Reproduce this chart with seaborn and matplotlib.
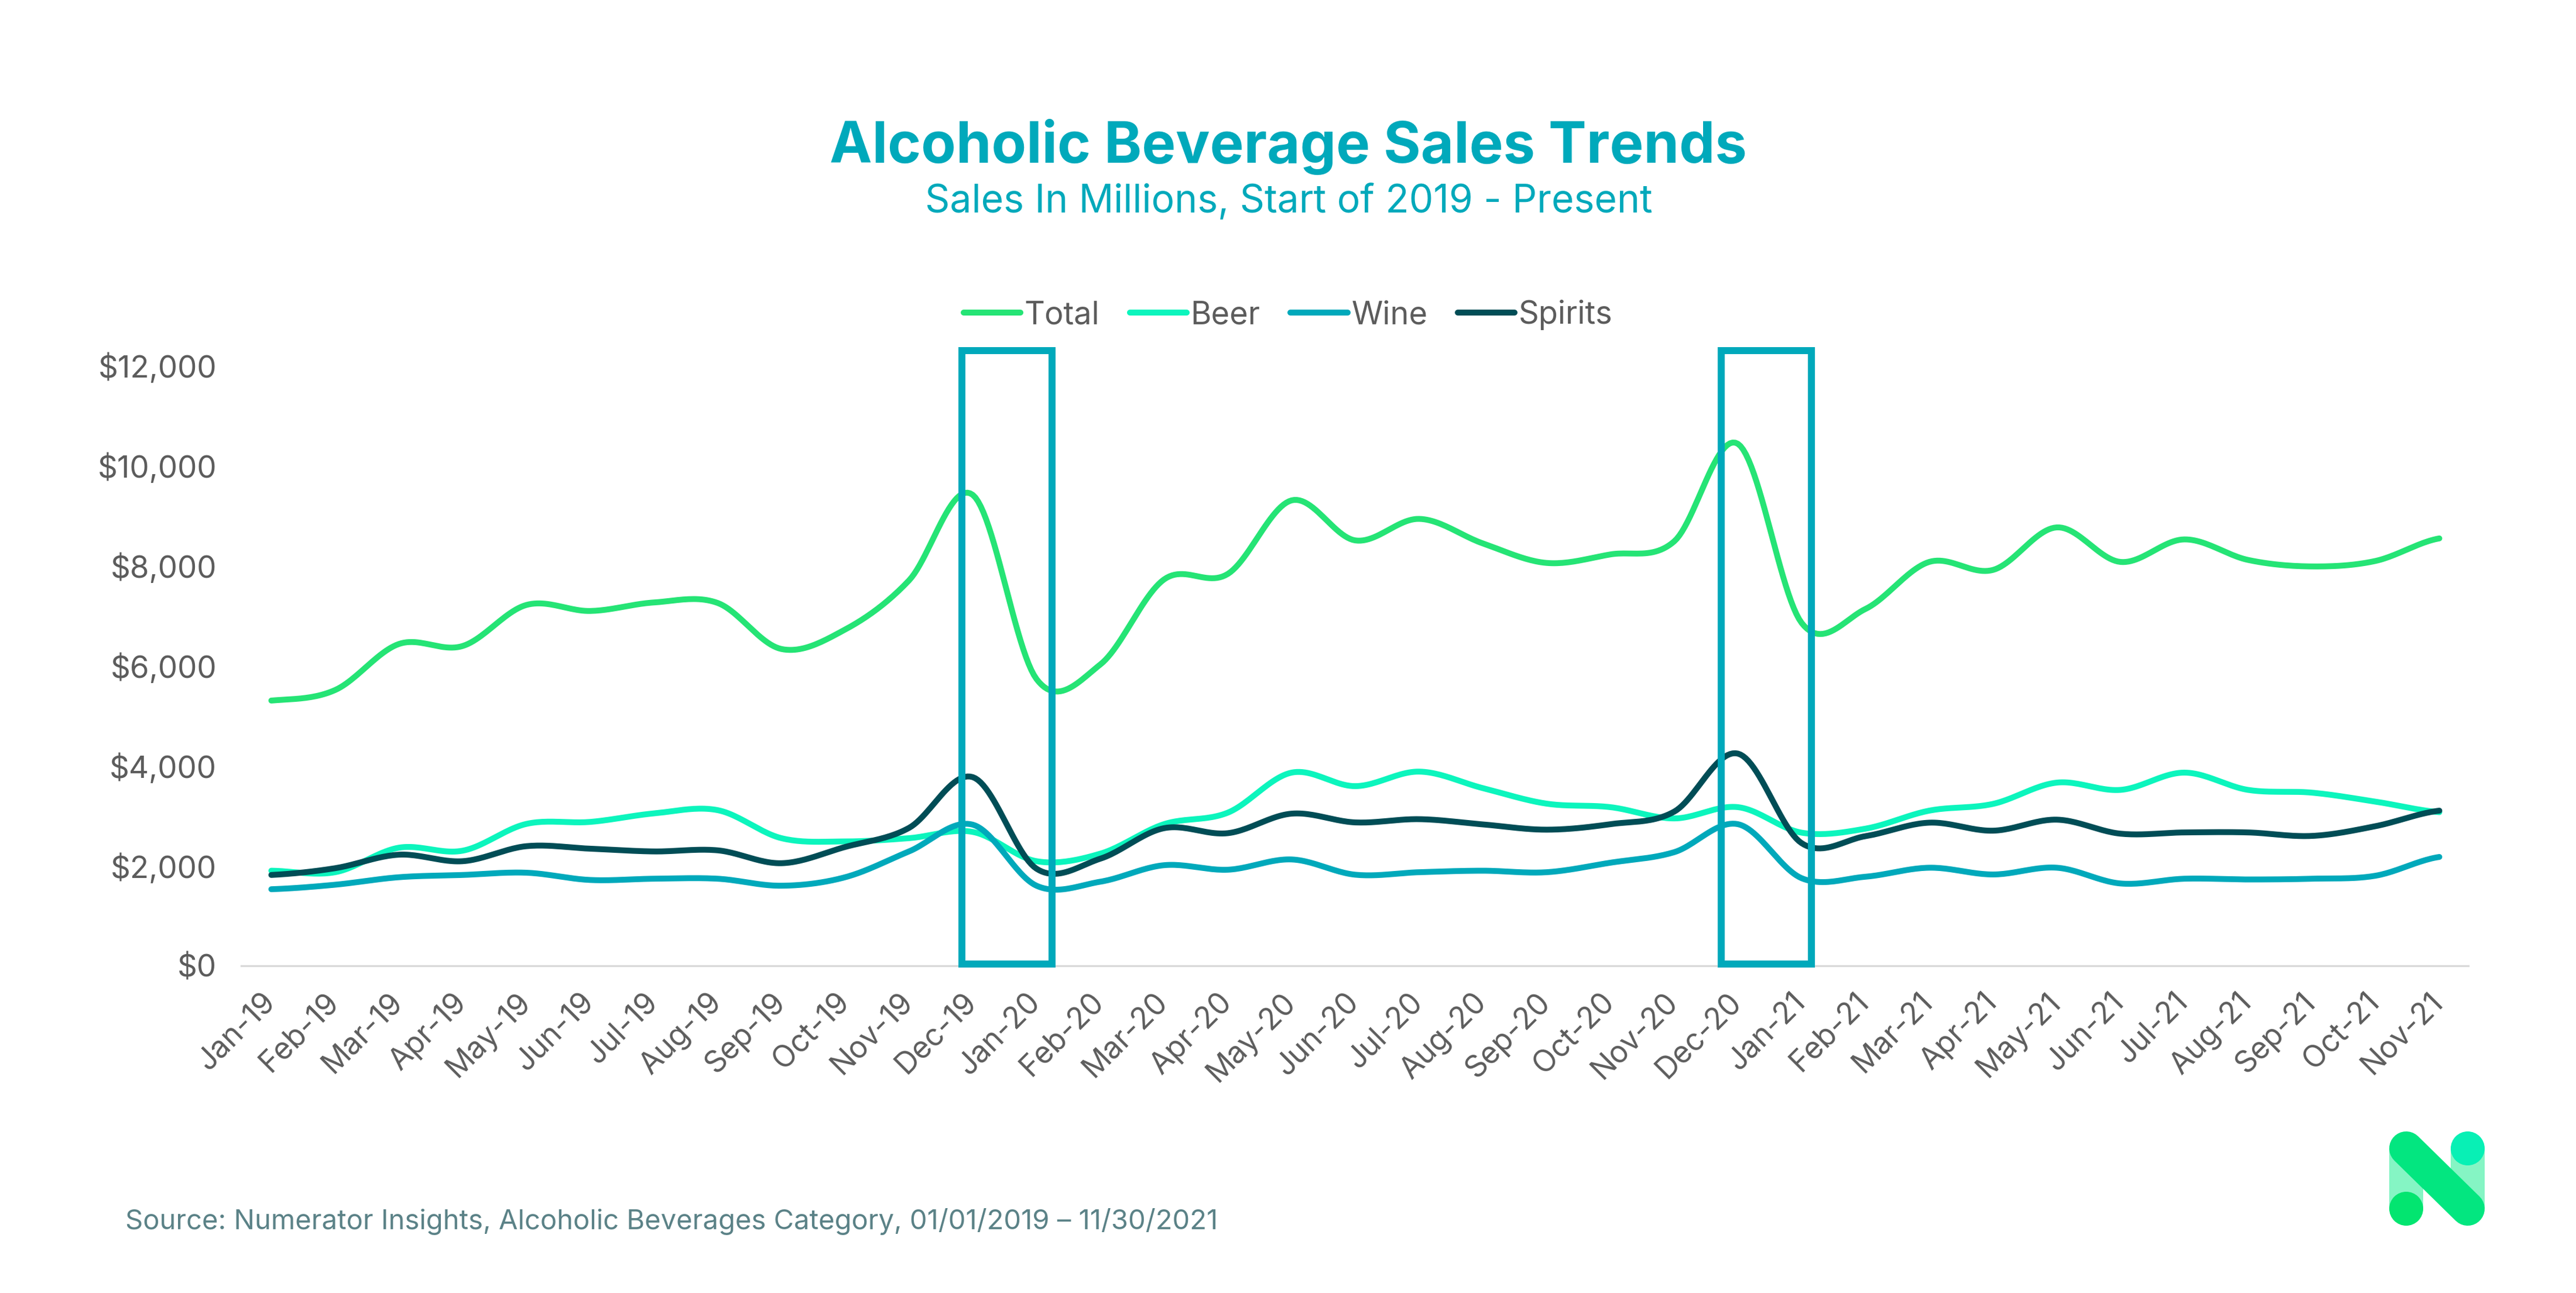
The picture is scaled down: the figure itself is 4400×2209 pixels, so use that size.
import numpy as np
import pandas as pd
import matplotlib
matplotlib.use("Agg")
import matplotlib.pyplot as plt
import seaborn as sns
from matplotlib.patches import Rectangle, Circle
from matplotlib.transforms import ScaledTranslation

# =========================
# 1. DATA
# =========================

months = [
    "Jan-19", "Feb-19", "Mar-19", "Apr-19", "May-19", "Jun-19", "Jul-19", "Aug-19", "Sep-19",
    "Oct-19", "Nov-19", "Dec-19", "Jan-20", "Feb-20", "Mar-20", "Apr-20", "May-20", "Jun-20",
    "Jul-20", "Aug-20", "Sep-20", "Oct-20", "Nov-20", "Dec-20", "Jan-21", "Feb-21", "Mar-21",
    "Apr-21", "May-21", "Jun-21", "Jul-21", "Aug-21", "Sep-21", "Oct-21", "Nov-21",
]

total = [5300, 5510, 6430, 6390, 7210, 7090, 7260, 7250, 6330, 6720, 7700, 9410,
         5730, 6020, 7720, 7830, 9300, 8500, 8930, 8440, 8050, 8220, 8480, 10430,
         6850, 7130, 8070, 7910, 8760, 8070, 8520, 8110, 7980, 8090, 8540]
beer = [1900, 1870, 2360, 2300, 2835, 2875, 3045, 3110, 2550, 2485, 2550, 2675,
        2090, 2240, 2830, 3060, 3860, 3590, 3880, 3550, 3240, 3170, 2945, 3170,
        2660, 2740, 3100, 3235, 3660, 3515, 3860, 3515, 3460, 3280, 3070]
wine = [1530, 1620, 1770, 1815, 1860, 1715, 1740, 1740, 1600, 1770, 2285, 2820,
        1600, 1680, 2010, 1920, 2125, 1820, 1870, 1900, 1870, 2060, 2270, 2830,
        1750, 1780, 1960, 1825, 1960, 1645, 1740, 1725, 1740, 1800, 2175]
spirits = [1815, 1950, 2220, 2090, 2390, 2340, 2285, 2307, 2050, 2375, 2755, 3770,
           1940, 2140, 2750, 2650, 3040, 2865, 2930, 2825, 2720, 2830, 3080, 4240,
           2450, 2590, 2860, 2700, 2920, 2640, 2665, 2665, 2595, 2790, 3100]

series_names = ["Total", "Beer", "Wine", "Spirits"]
colors = {"Total": "#25E475", "Beer": "#0CF5BD", "Wine": "#00A9BB", "Spirits": "#004D56"}
yticks = [0, 2000, 4000, 6000, 8000, 10000, 12000]
highlights = {"Dec-19": -0.17, "Dec-20": -0.26}

# =========================
# 2. SMOOTH LINES LIKE THE SPREADSHEET DOES
# =========================

def smooth(values, steps=24):
    # catmull-rom through the monthly values, only for drawing
    v = np.array(values, dtype=float)
    tang = np.zeros(len(v))
    tang[1:-1] = (v[2:] - v[:-2]) / 2
    tang[0] = (v[1] - v[0]) / 2
    tang[-1] = (v[-1] - v[-2]) / 2
    xs, ys = [], []
    for i in range(len(v) - 1):
        t = np.linspace(0, 1, steps, endpoint=False)
        y = ((2*t**3 - 3*t**2 + 1) * v[i] + (t**3 - 2*t**2 + t) * tang[i]
             + (-2*t**3 + 3*t**2) * v[i+1] + (t**3 - t**2) * tang[i+1])
        xs.extend(i + t)
        ys.extend(y)
    xs.append(len(v) - 1)
    ys.append(v[-1])
    return xs, ys

rows = []
for name, vals in zip(series_names, [total, beer, wine, spirits]):
    xs, ys = smooth(vals)
    rows.append(pd.DataFrame({"x": xs, "sales": ys, "series": name}))
df = pd.concat(rows, ignore_index=True)

# =========================
# 3. PLOT
# =========================

W, H = 4400, 2209
sns.set_theme(style="white")
plt.rcParams["font.family"] = ["Inter", "DejaVu Sans"]
plt.rcParams["lines.solid_capstyle"] = "round"

fig = plt.figure(figsize=(W / 100, H / 100), dpi=100, facecolor="white")
ax = fig.add_axes([409 / W, 1 - 1650 / H, (4221 - 409) / W, (1650 - 624) / H])

sns.lineplot(data=df, x="x", y="sales", hue="series", hue_order=series_names, palette=colors,
             estimator=None, sort=False, linewidth=7.2, ax=ax, zorder=3)

ax.set_xlim(-0.5, len(months) - 0.5)
ax.set_ylim(0, 12000)
ax.set_xlabel("")
ax.set_ylabel("")
ax.set_xticks(range(len(months)))
ax.set_xticklabels(months, rotation=45, ha="right", rotation_mode="anchor")
ax.set_yticks(yticks)
ax.set_yticklabels([f"${v:,}" for v in yticks])
ax.tick_params(axis="x", length=0, pad=27, labelsize=37, labelcolor="#5C5C5C")
ax.tick_params(axis="y", length=0, pad=28, labelsize=38, labelcolor="#5C5C5C")
# pull the slanted labels back so they end under their month
shift = ScaledTranslation(-18 / 100, 0, fig.dpi_scale_trans)
for lab in ax.get_xticklabels():
    lab.set_transform(lab.get_transform() + shift)
ax.grid(False)
sns.despine(ax=ax, left=True)
ax.spines["bottom"].set_color("#D9D9D9")
ax.spines["bottom"].set_linewidth(2.4)
ax.spines["bottom"].set_bounds(-0.47, 34.45)

# highlight boxes round the december peaks
for m, off in highlights.items():
    i = months.index(m)
    ax.add_patch(Rectangle((i + off, 30), 1.41, 12260, fill=False, edgecolor="#00A9BB",
                           linewidth=8.6, zorder=5, clip_on=False, joinstyle="miter"))

sns.move_legend(ax, "center", bbox_to_anchor=(2200 / W, 1 - 538 / H),
                bbox_transform=fig.transFigure, ncol=4, title=None, frameon=False,
                fontsize=39, handlelength=1.8, handletextpad=0.12, columnspacing=0.95,
                labelcolor="#5C5C5C")

# =========================
# 4. TEXT AND LOGO
# =========================

fig.text(2200 / W, 1 - 278 / H, "Alcoholic Beverage Sales Trends", ha="center", va="baseline",
         fontsize=70, fontweight="bold", color="#00A9BB")
fig.text(2201 / W, 1 - 363 / H, "Sales In Millions, Start of 2019 - Present", ha="center",
         va="baseline", fontsize=47.5, color="#00A9BB")
fig.text(214 / W, 1 - 2100 / H, "Source: Numerator Insights, Alcoholic Beverages Category, 01/01/2019 – 11/30/2021",
         ha="left", va="baseline", fontsize=34, color="#5B8287")

# logo in pixel coordinates
logo = fig.add_axes([0, 0, 1, 1], facecolor="none")
logo.set_xlim(0, W)
logo.set_ylim(H, 0)
logo.axis("off")
logo.add_patch(Rectangle((4081, 1962), 58, 103, color="#85F5C4", lw=0))
logo.add_patch(Rectangle((4186, 1962), 58, 103, color="#85F5C4", lw=0))
logo.plot([4110, 4215], [1962, 2065], color="#03E680", linewidth=41.8, solid_capstyle="round")
logo.add_patch(Circle((4110, 2065), 29, color="#03E570", lw=0))
logo.add_patch(Circle((4215, 1962), 29, color="#08F0B5", lw=0))

fig.savefig("out.png", dpi=100, facecolor="white")
